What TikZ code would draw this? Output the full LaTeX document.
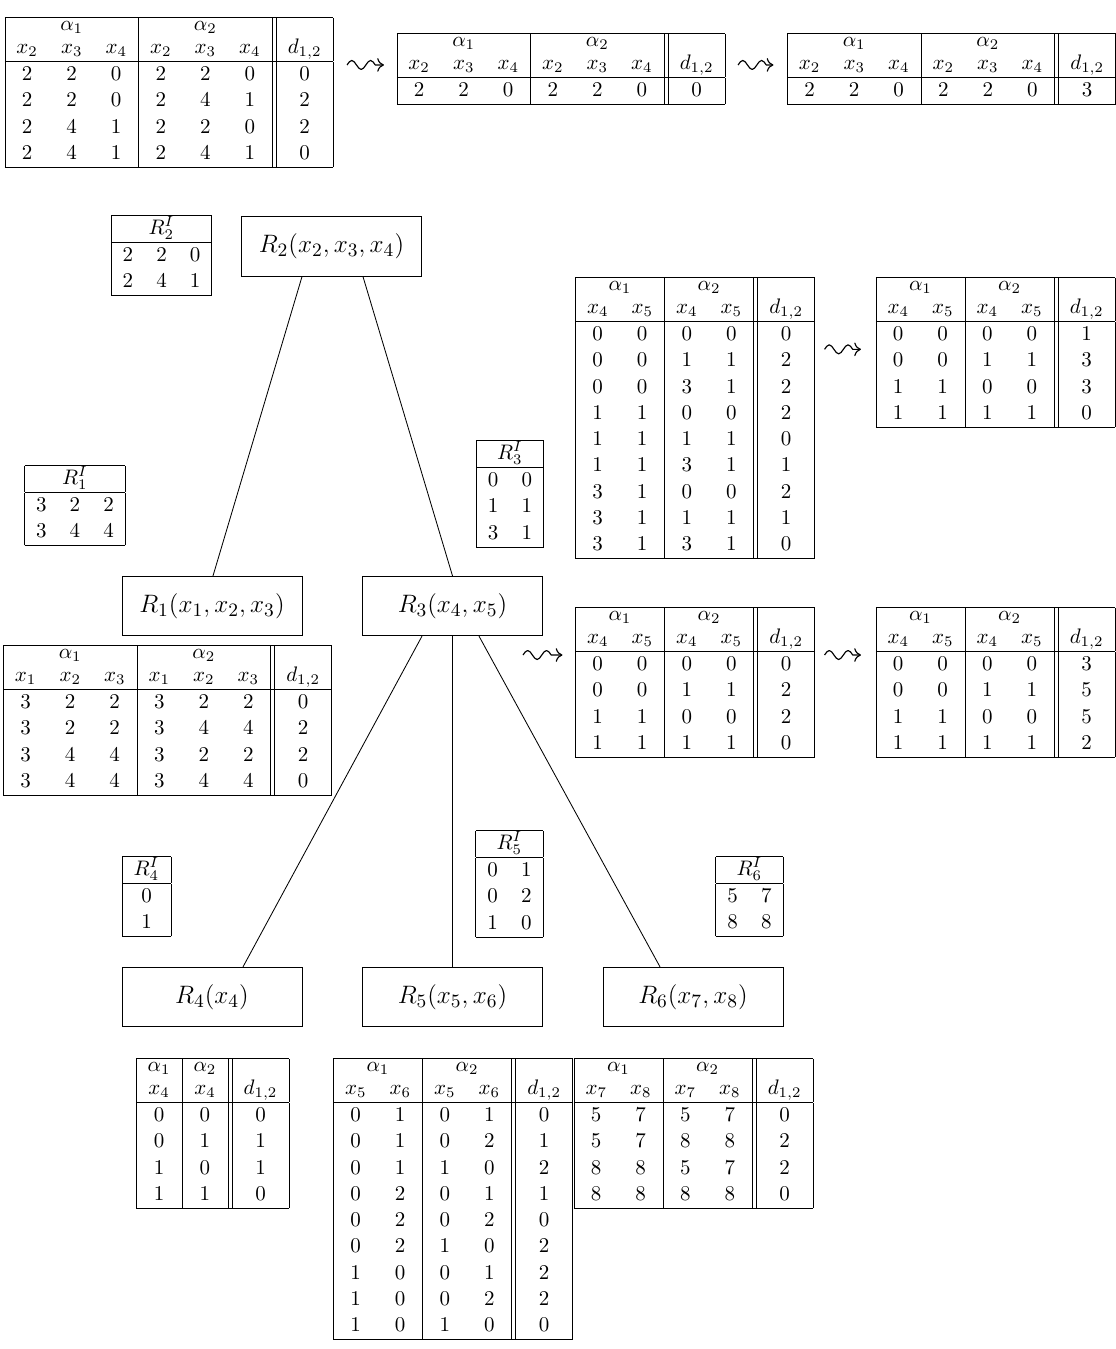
\documentclass[tikz,border=0pt]{standalone}
\usepackage{amsmath}
\usetikzlibrary{calc,arrows.meta}

% row struts: data rows, first and second header rows
\newcommand\dr{\rule[-3.6pt]{0pt}{12.5pt}}
\newcommand\hA{\rule[-4pt]{0pt}{10pt}}
\newcommand\hB{\rule[-3.6pt]{0pt}{10.1pt}}
\renewcommand{\arraystretch}{0.3}
\setlength{\tabcolsep}{5.5pt}

\tikzset{
  tab/.style={inner sep=0pt, outer sep=0pt, anchor=north},
  rel/.style={draw, line width=0.4pt, minimum width=85.7pt, minimum height=28.3pt,
              inner sep=0pt, font=\fontsize{12.6pt}{15pt}\selectfont},
  edge/.style={line width=0.4pt},
  squig/.style={line width=0.55pt, line join=round, -{To[length=3.2pt,width=6.5pt]}}
}

\begin{document}
\begin{tikzpicture}[x=0.47619pt, y=-0.47619pt]
\useasboundingbox (0,0) rectangle (1115,1349);
\fill[white] (0,0) rectangle (1115,1349);

% ---------- top row: R2 pair table and its reductions ----------
\node[tab] (top1) at (169,17) {\begin{tabular}{|ccc|ccc||c|}\hline
\multicolumn{3}{|c|}{\hA$\alpha_1$} & \multicolumn{3}{c||}{$\alpha_2$} & \\
\hB$x_2$ & $x_3$ & $x_4$ & $x_2$ & $x_3$ & $x_4$ & $d_{1,2}$\\ \hline
\dr 2&2&0&2&2&0&0\\
\dr 2&2&0&2&4&1&2\\
\dr 2&4&1&2&2&0&2\\
\dr 2&4&1&2&4&1&0\\ \hline
\end{tabular}};

\node[tab] (top2) at (561,33) {\begin{tabular}{|ccc|ccc||c|}\hline
\multicolumn{3}{|c|}{\hA$\alpha_1$} & \multicolumn{3}{c||}{$\alpha_2$} & \\
\hB$x_2$ & $x_3$ & $x_4$ & $x_2$ & $x_3$ & $x_4$ & $d_{1,2}$\\ \hline
\dr 2&2&0&2&2&0&0\\ \hline
\end{tabular}};

\node[tab] (top3) at (951.5,33) {\begin{tabular}{|ccc|ccc||c|}\hline
\multicolumn{3}{|c|}{\hA$\alpha_1$} & \multicolumn{3}{c||}{$\alpha_2$} & \\
\hB$x_2$ & $x_3$ & $x_4$ & $x_2$ & $x_3$ & $x_4$ & $d_{1,2}$\\ \hline
\dr 2&2&0&2&2&0&3\\ \hline
\end{tabular}};

% squiggly "leads to" arrows: one and a half waves, then a straight run
\draw[squig] ($(top1.east |- top2.west)+(14,-4)$)
  sin ++(4.7,-4.5) cos ++(4.7,4.5) sin ++(4.7,4.5) cos ++(4.7,-4.5)
  sin ++(4.7,-4.5) cos ++(4.7,4.5) -- ($(top2.west)+(-13,-4)$);
\draw[squig] ($(top2.east)+(13,-4)$)
  sin ++(4.7,-4.5) cos ++(4.7,4.5) sin ++(4.7,4.5) cos ++(4.7,-4.5)
  sin ++(4.7,-4.5) cos ++(4.7,4.5) -- ($(top3.west)+(-14,-4)$);

% ---------- tree of relations ----------
\node[rel] (nR2) at (331.5,246.5) {$R_2(x_2,x_3,x_4)$};
\node[rel] (nR1) at (212,606) {$R_1(x_1,x_2,x_3)$};
\node[rel] (nR3) at (452.5,606) {$R_3(x_4,x_5)$};
\node[rel] (nR4) at (212,997) {$R_4(x_4)$};
\node[rel] (nR5) at (452.5,997) {$R_5(x_5,x_6)$};
\node[rel] (nR6) at (693,997) {$R_6(x_7,x_8)$};

\draw[edge] ($(nR2.south)+(-29.5,0)$) -- ($(nR1.north)+(1,0)$);
\draw[edge] ($(nR2.south)+(31.5,0)$) -- (nR3.north);
\draw[edge] ($(nR3.south)+(-30.5,0)$) -- ($(nR4.north)+(31,0)$);
\draw[edge] (nR3.south) -- (nR5.north);
\draw[edge] ($(nR3.south)+(26.5,0)$) -- ($(nR6.north)+(-33,0)$);

% ---------- instance tables ----------
\node[tab] (r2i) at (161.5,215) {\begin{tabular}{|ccc|}\hline
\multicolumn{3}{|c|}{\dr$R_2^I$}\\ \hline
\dr 2&2&0\\
\dr 2&4&1\\ \hline
\end{tabular}};

\node[tab] (r1i) at (75,465) {\begin{tabular}{|ccc|}\hline
\multicolumn{3}{|c|}{\dr$R_1^I$}\\ \hline
\dr 3&2&2\\
\dr 3&4&4\\ \hline
\end{tabular}};

\node[tab] (r3i) at (510,440) {\begin{tabular}{|cc|}\hline
\multicolumn{2}{|c|}{\dr$R_3^I$}\\ \hline
\dr 0&0\\
\dr 1&1\\
\dr 3&1\\ \hline
\end{tabular}};

\node[tab] (r4i) at (146.5,856) {\begin{tabular}{|c|}\hline
\dr$R_4^I$\\ \hline
\dr 0\\
\dr 1\\ \hline
\end{tabular}};

\node[tab] (r5i) at (509.5,830) {\begin{tabular}{|cc|}\hline
\multicolumn{2}{|c|}{\dr$R_5^I$}\\ \hline
\dr 0&1\\
\dr 0&2\\
\dr 1&0\\ \hline
\end{tabular}};

\node[tab] (r6i) at (749.5,856) {\begin{tabular}{|cc|}\hline
\multicolumn{2}{|c|}{\dr$R_6^I$}\\ \hline
\dr 5&7\\
\dr 8&8\\ \hline
\end{tabular}};

% ---------- R3 pair tables ----------
\node[tab] (r3t1) at (695,277) {\begin{tabular}{|cc|cc||c|}\hline
\multicolumn{2}{|c|}{\hA$\alpha_1$} & \multicolumn{2}{c||}{$\alpha_2$} & \\
\hB$x_4$ & $x_5$ & $x_4$ & $x_5$ & $d_{1,2}$\\ \hline
\dr 0&0&0&0&0\\
\dr 0&0&1&1&2\\
\dr 0&0&3&1&2\\
\dr 1&1&0&0&2\\
\dr 1&1&1&1&0\\
\dr 1&1&3&1&1\\
\dr 3&1&0&0&2\\
\dr 3&1&1&1&1\\
\dr 3&1&3&1&0\\ \hline
\end{tabular}};

\node[tab] (r3t2) at (995.5,277) {\begin{tabular}{|cc|cc||c|}\hline
\multicolumn{2}{|c|}{\hA$\alpha_1$} & \multicolumn{2}{c||}{$\alpha_2$} & \\
\hB$x_4$ & $x_5$ & $x_4$ & $x_5$ & $d_{1,2}$\\ \hline
\dr 0&0&0&0&1\\
\dr 0&0&1&1&3\\
\dr 1&1&0&0&3\\
\dr 1&1&1&1&0\\ \hline
\end{tabular}};

\node[tab] (r3t3) at (695,607) {\begin{tabular}{|cc|cc||c|}\hline
\multicolumn{2}{|c|}{\hA$\alpha_1$} & \multicolumn{2}{c||}{$\alpha_2$} & \\
\hB$x_4$ & $x_5$ & $x_4$ & $x_5$ & $d_{1,2}$\\ \hline
\dr 0&0&0&0&0\\
\dr 0&0&1&1&2\\
\dr 1&1&0&0&2\\
\dr 1&1&1&1&0\\ \hline
\end{tabular}};

\node[tab] (r3t4) at (995.5,607) {\begin{tabular}{|cc|cc||c|}\hline
\multicolumn{2}{|c|}{\hA$\alpha_1$} & \multicolumn{2}{c||}{$\alpha_2$} & \\
\hB$x_4$ & $x_5$ & $x_4$ & $x_5$ & $d_{1,2}$\\ \hline
\dr 0&0&0&0&3\\
\dr 0&0&1&1&5\\
\dr 1&1&0&0&5\\
\dr 1&1&1&1&2\\ \hline
\end{tabular}};

\coordinate (a4s) at (523,655);
\draw[squig] ($(r3t1.east |- r3t2.west)+(10,-3)$)
  sin ++(4.7,-4.5) cos ++(4.7,4.5) sin ++(4.7,4.5) cos ++(4.7,-4.5)
  sin ++(4.7,-4.5) cos ++(4.7,4.5) -- ($(r3t2.west)+(-15,-3)$);
\draw[squig] (a4s)
  sin ++(4.7,-4.5) cos ++(4.7,4.5) sin ++(4.7,4.5) cos ++(4.7,-4.5)
  sin ++(4.7,-4.5) cos ++(4.7,4.5) -- ($(r3t3.west |- a4s)+(-13,0)$);
\draw[squig] ($(r3t3.east |- a4s)+(10,0)$)
  sin ++(4.7,-4.5) cos ++(4.7,4.5) sin ++(4.7,4.5) cos ++(4.7,-4.5)
  sin ++(4.7,-4.5) cos ++(4.7,4.5) -- ($(r3t4.west |- a4s)+(-15,0)$);

% ---------- R1 pair table ----------
\node[tab] (r1t) at (167.5,645) {\begin{tabular}{|ccc|ccc||c|}\hline
\multicolumn{3}{|c|}{\hA$\alpha_1$} & \multicolumn{3}{c||}{$\alpha_2$} & \\
\hB$x_1$ & $x_2$ & $x_3$ & $x_1$ & $x_2$ & $x_3$ & $d_{1,2}$\\ \hline
\dr 3&2&2&3&2&2&0\\
\dr 3&2&2&3&4&4&2\\
\dr 3&4&4&3&2&2&2\\
\dr 3&4&4&3&4&4&0\\ \hline
\end{tabular}};

% ---------- leaf pair tables ----------
\node[tab] (r4t) at (212.5,1058) {\begin{tabular}{|c|c||c|}\hline
\hA$\alpha_1$ & $\alpha_2$ & \\
\hB$x_4$ & $x_4$ & $d_{1,2}$\\ \hline
\dr 0&0&0\\
\dr 0&1&1\\
\dr 1&0&1\\
\dr 1&1&0\\ \hline
\end{tabular}};

\node[tab] (r5t) at (453,1058) {\begin{tabular}{|cc|cc||c|}\hline
\multicolumn{2}{|c|}{\hA$\alpha_1$} & \multicolumn{2}{c||}{$\alpha_2$} & \\
\hB$x_5$ & $x_6$ & $x_5$ & $x_6$ & $d_{1,2}$\\ \hline
\dr 0&1&0&1&0\\
\dr 0&1&0&2&1\\
\dr 0&1&1&0&2\\
\dr 0&2&0&1&1\\
\dr 0&2&0&2&0\\
\dr 0&2&1&0&2\\
\dr 1&0&0&1&2\\
\dr 1&0&0&2&2\\
\dr 1&0&1&0&0\\ \hline
\end{tabular}};

\node[tab] (r6t) at (693.5,1058) {\begin{tabular}{|cc|cc||c|}\hline
\multicolumn{2}{|c|}{\hA$\alpha_1$} & \multicolumn{2}{c||}{$\alpha_2$} & \\
\hB$x_7$ & $x_8$ & $x_7$ & $x_8$ & $d_{1,2}$\\ \hline
\dr 5&7&5&7&0\\
\dr 5&7&8&8&2\\
\dr 8&8&5&7&2\\
\dr 8&8&8&8&0\\ \hline
\end{tabular}};
\end{tikzpicture}
\end{document}
